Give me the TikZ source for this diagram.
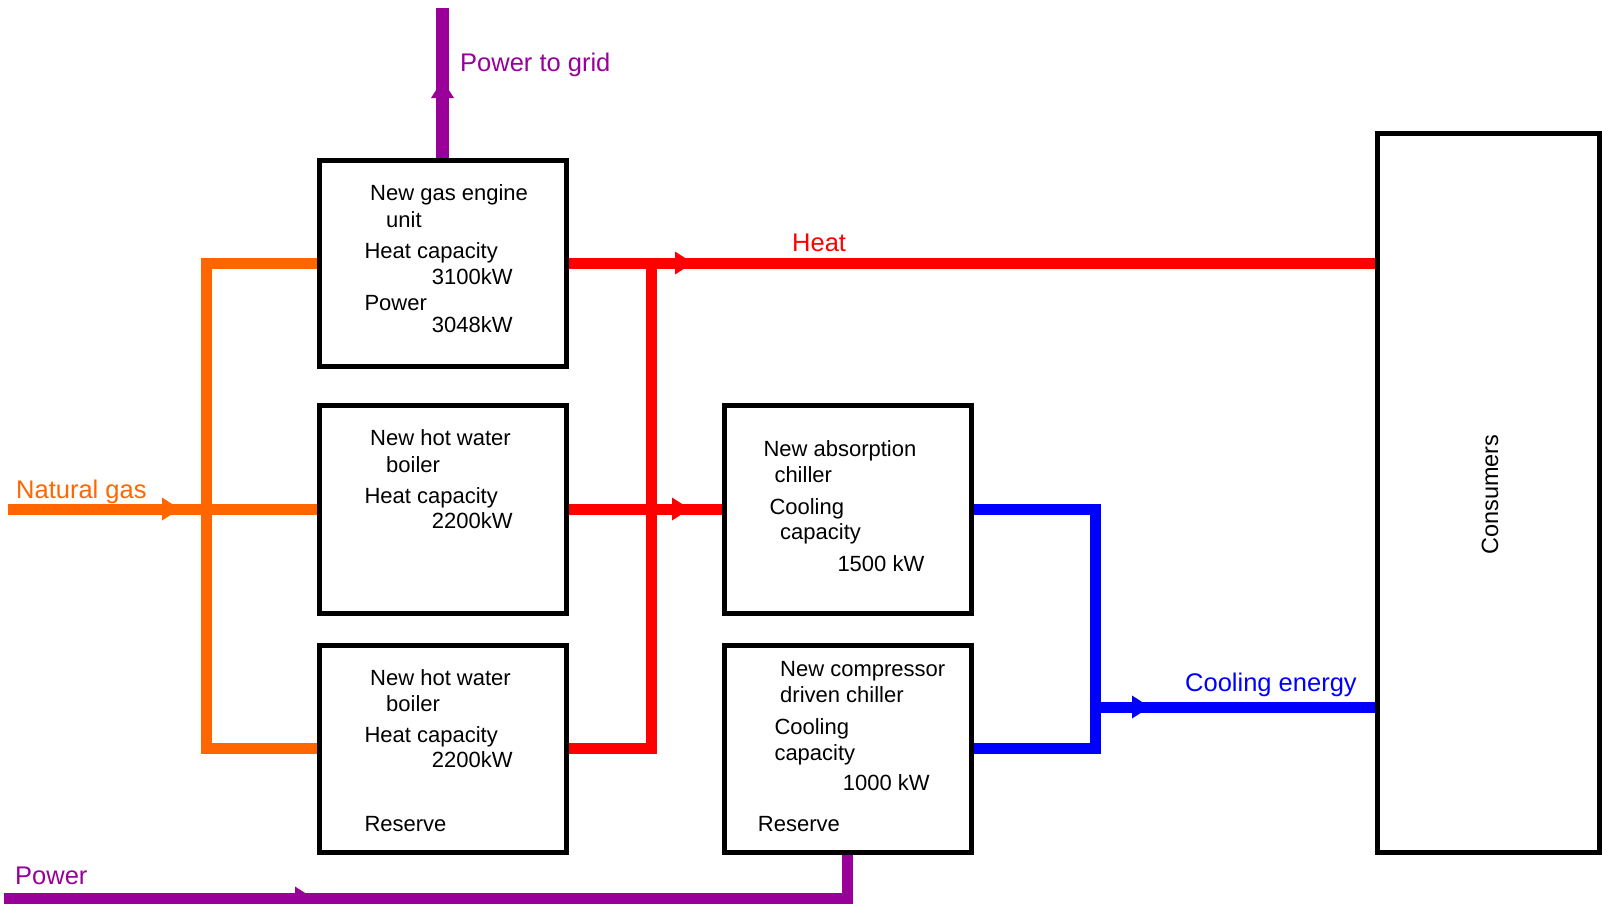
\documentclass[tikz,border=0pt]{standalone}
\usepackage{fontspec}
\setmainfont{Liberation Sans}
\usetikzlibrary{arrows.meta,decorations.markings}
\definecolor{gasc}{RGB}{255,102,0}
\definecolor{heatc}{RGB}{255,0,0}
\definecolor{coolc}{RGB}{0,0,255}
\definecolor{powc}{RGB}{153,0,153}
\pgfdeclarelayer{bg}
\pgfsetlayers{bg,main}
\tikzset{
  box/.style={draw=black, line width=5pt, outer sep=0pt, inner sep=0pt, minimum width=247pt},
  flow/.style={line width=11pt},
  txt/.style={anchor=base west, inner sep=0pt, font=\fontsize{22}{26}\selectfont},
  lbl/.style={anchor=base west, inner sep=0pt, font=\fontsize{25.5}{30}\selectfont},
  arrowat/.style={postaction={decorate}, decoration={markings, mark=at position #1 with {\fill[line width=0pt] (0pt,0pt) -- (-18pt,11.5pt) -- (-18pt,-11.5pt) -- cycle;}}},
}
\begin{document}
\begin{tikzpicture}[x=1pt,y=-1pt]
\useasboundingbox (0,0) rectangle (1602,903);
% boxes
\node[box, minimum height=206pt] (b1) at (442.5,263) {};
\node[box, minimum height=208pt] (b2) at (442.5,509) {};
\node[box, minimum height=207pt] (b3) at (442.5,748.5) {};
\node[box, minimum height=208pt] (b4) at (847.5,509) {};
\node[box, minimum height=207pt] (b5) at (847.5,748.5) {};
\node[box, minimum width=222pt, minimum height=719pt] (cons) at (1488,492.5) {};
\node[rotate=90, inner sep=0pt, font=\fontsize{23.5}{28}\selectfont] (consl) at (1490,494.5) {Consumers};
% box texts
\node[txt] (t1a) at (370,200.7) {New gas engine};
\node[txt] (t1b) at (386,227.7) {unit};
\node[txt] (t1c) at (364.3,258) {Heat capacity};
\node[txt] (t1d) at (431.7,284) {3100kW};
\node[txt] (t1e) at (364.3,310.3) {Power};
\node[txt] (t1f) at (431.7,332) {3048kW};
\node[txt] (t2a) at (370,445.9) {New hot water};
\node[txt] (t2b) at (386,472.5) {boiler};
\node[txt] (t2c) at (364.3,503.1) {Heat capacity};
\node[txt] (t2d) at (431.7,528.7) {2200kW};
\node[txt] (t3a) at (370,685) {New hot water};
\node[txt] (t3b) at (386,711.5) {boiler};
\node[txt] (t3c) at (364.3,742.2) {Heat capacity};
\node[txt] (t3d) at (431.7,767.7) {2200kW};
\node[txt] (t3e) at (364.3,831.1) {Reserve};
\node[txt] (t4a) at (763.3,456.7) {New absorption};
\node[txt] (t4b) at (774.3,482.7) {chiller};
\node[txt] (t4c) at (769.3,514) {Cooling};
\node[txt] (t4d) at (780,539.3) {capacity};
\node[txt] (t4e) at (837.3,571.7) {1500 kW};
\node[txt] (t5a) at (780,676) {New compressor};
\node[txt] (t5b) at (780,702.7) {driven chiller};
\node[txt] (t5c) at (774.3,734) {Cooling};
\node[txt] (t5d) at (774.3,760) {capacity};
\node[txt] (t5e) at (842.7,790.7) {1000 kW};
\node[txt] (t5f) at (757.7,831.7) {Reserve};
% labels
\node[lbl, text=powc] (lgrid) at (460,71) {Power to grid};
\node[lbl, text=heatc] (lheat) at (792,251) {Heat};
\node[lbl, text=gasc] (lgas) at (16,498) {Natural gas};
\node[lbl, text=coolc] (lcool) at (1185,691) {Cooling energy};
\node[lbl, text=powc] (lpow) at (15,884) {Power};
% coordinates
\coordinate (ngin) at (8,509);
\coordinate (gx) at (206,509);
\coordinate (rx) at (651,509);
\coordinate (bx) at (1095,509);
\coordinate (cj) at (1095,707);
\coordinate (pin) at (4,898);
\coordinate (gtop) at (442.5,8);
\begin{pgfonlayer}{bg}
\draw[flow, gasc, arrowat=172pt] (ngin) -- (b2.west);
\draw[flow, gasc] (b1.west) -- (b1.west -| gx) -- (b3.west -| gx) -- (b3.west);
\draw[flow, heatc, arrowat=127pt] (b1.east) -- (b1.east -| cons.west);
\draw[flow, heatc] (b3.east) -- (b3.east -| rx) -- (b1.east -| rx);
\draw[flow, heatc, arrowat=124pt] (b2.east) -- (b4.west);
\draw[flow, coolc] (b4.east) -- (b4.east -| bx) -- (b5.east -| bx) -- (b5.east);
\draw[flow, coolc, arrowat=55pt] (cj) -- (cj -| cons.west);
\draw[flow, powc, arrowat=309pt] (pin) -- (pin -| b5.south) -- (b5.south);
\draw[flow, powc, line width=13pt, arrowat=80pt] (b1.north) -- (gtop);
\end{pgfonlayer}
\end{tikzpicture}
\end{document}
